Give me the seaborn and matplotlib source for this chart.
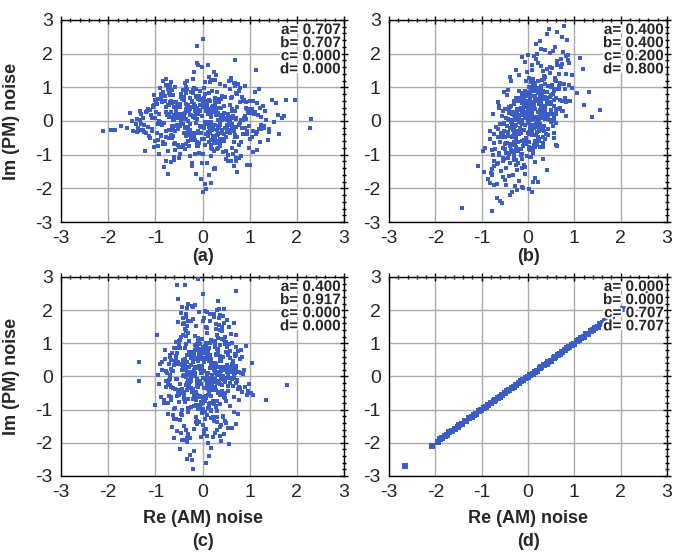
import numpy as np
import pandas as pd
import seaborn as sns
import matplotlib.pyplot as plt
import matplotlib.patheffects as pe
from matplotlib.ticker import MultipleLocator

# ---- panel (a): a=b=0.707, c=d=0 ----
xa = [-0.12, 0.45, -0.83, 0.27, 1.12, -0.36, 0.05, -1.24, 0.68, -0.51,
      0.31, -0.07, 0.92, -0.64, 0.18, -1.47, 0.56, 0.02, -0.29, 1.38,
      -0.71, 0.14, -0.22, 0.83, -1.05, 0.39, -0.48, 0.71, -0.15, 0.24,
      1.63, -0.94, 0.09, -0.37, 0.52, -0.61, 1.01, -0.19, 0.35, -1.72,
      0.11, -0.55, 0.77, -0.03, -0.88, 0.43, 0.26, -1.31, 0.61, -0.42,
      -0.26, 1.24, -0.69, 0.17, 0.95, -0.11, -0.78, 0.48, -1.16, 0.33,
      0.58, -0.33, 0.04, -0.97, 1.47, -0.21, 0.66, -0.58, 0.21, -0.06,
      -1.39, 0.37, 0.86, -0.45, 0.12, -0.81, 0.29, 1.09, -0.31, 0.74,
      0.07, -0.66, -1.93, 0.54, -0.17, 0.99, -0.41, 0.19, -1.08, 1.78,
      -0.49, 0.23, 0.63, -0.24, -0.74, 1.31, 0.01, -0.57, 0.41, -0.90,
      0.88, -0.14, -1.21, 0.32, 0.69, -0.39, 0.15, -0.86, 1.19, -0.02,
      -0.31, 0.49, -0.60, 2.31, -0.09, 0.81, -1.54, 0.27, -0.44, 0.58,
      0.13, -1.01, 0.38, -0.18, 0.97, -0.70, 0.06, 1.41, -0.27, -0.53,
      0.72, -0.38, -0.92, 0.20, 0.46, -0.13, 1.56, -0.65, 0.10, -1.12,
      -0.04, 0.62, -0.47, 0.89, -1.33, 0.34, -0.23, 0.77, -0.76, 0.16,
      1.05, -0.52, 0.28, -0.08, -2.12, 0.51, -0.35, 0.93, -0.62, 0.03,
      -0.84, 0.40, 1.27, -0.28, 0.08, -0.99, 0.57, -0.16, 1.69, -0.46,
      0.25, -0.72, -0.10, 0.64, -1.27, 0.19, 0.82, -0.40, 0.36, -0.01,
      -0.58, 1.14, 0.12, -0.89, 0.47, -0.25, -1.60, 0.71, 0.00, 0.94,
      0.36, -0.17, -0.73, 1.34, -0.34, 0.55, -0.05, -1.02, 0.22, 0.67,
      -1.18, 0.09, 0.79, -0.50, 0.30, 1.95, -0.67, 0.14, -0.20, 0.42,
      0.60, -0.94, -0.32, 0.18, 1.07, -0.12, -0.56, 0.84, -1.42, 0.26,
      -0.15, 0.53, 0.99, -0.77, -0.02, 0.38, -1.07, 0.20, 0.69, -0.43,
      1.52, -0.30, 0.06, -0.61, 0.44, -1.85, 0.15, 0.91, -0.22, 0.32,
      -0.68, 0.27, -0.09, 1.20, -0.47, 0.04, 0.60, -0.95, 2.27, -0.36,
      0.17, -1.24, 0.74, -0.19, -0.60, 1.00, 0.39, -0.08, -0.82, 0.50,
      -0.43, 0.85, -0.26, 0.11, 1.61, -0.71, 0.24, -0.53, 0.05, -1.50,
      0.94, -0.04, -0.99, 0.41, -0.30, 0.63, 1.29, -0.14, -0.64, 0.19,
      -0.21, 0.70, 0.31, -1.36, 0.80, -0.45, 0.00, 1.16, -0.87, 0.37,
      0.48, -0.59, 1.73, -0.11, -0.39, 0.23, -0.80, 0.57, 0.13, -0.27]
ya = [0.21, 0.44, -0.63, -0.12, 0.85, 0.07, -0.71, -0.34, 1.03, 0.18,
      -0.27, -0.96, 0.38, 0.52, -0.02, -0.29, 1.18, 0.41, -0.73, -0.56,
      0.11, 0.83, -1.26, -0.20, 0.46, 0.64, -0.15, -0.88, 0.09, 1.45,
      -0.38, -0.05, 0.52, 1.12, -0.31, -0.69, 0.23, 0.97, -0.58, -0.16,
      1.66, 0.44, -0.12, -0.35, 0.79, 0.06, -1.43, -0.26, 0.69, 0.93,
      -0.08, -0.25, 0.57, 1.22, -0.31, -0.74, 0.43, 1.03, -0.17, -0.81,
      0.47, 1.18, -0.14, -0.36, 0.62, 0.13, -1.34, -0.66, 0.28, 0.90,
      -0.33, -0.75, 0.04, 0.81, -0.46, -1.37, 0.19, 0.22, -0.58, -1.52,
      0.33, 0.59, -0.28, -1.01, 0.14, 0.37, -0.71, -1.84, 0.10, 0.61,
      -0.76, -0.50, 0.08, 0.43, -1.57, -0.16, 2.45, 0.29, -0.53, -0.02,
      0.61, 0.27, -0.89, -0.15, 1.08, 0.72, -0.35, -0.06, 0.94, 0.48,
      -0.19, -1.12, 0.42, 0.05, -0.36, -0.62, 0.25, 1.21, -0.77, -0.03,
      1.31, 0.10, -0.67, -0.55, 0.23, 0.94, -1.88, -0.32, 0.67, 0.41,
      -0.18, -0.83, 0.00, 0.88, -0.39, -1.56, 0.53, 0.12, -1.26, -0.51,
      0.64, 0.31, -0.97, -0.21, 0.04, 0.66, -0.37, -1.09, 0.18, 1.15,
      -0.47, -0.24, 1.38, 0.74, -0.30, -0.13, 1.02, 0.55, -0.45, -0.20,
      0.86, 0.07, -0.15, -0.42, -2.02, 0.58, -0.26, -0.98, 0.09, 0.72,
      -0.90, -0.50, 1.67, 0.11, -0.27, -0.79, 0.03, 0.61, -0.35, -1.25,
      0.14, 1.51, -0.32, -0.43, 0.70, 0.87, -0.20, -0.17, -2.10, 0.35,
      -0.52, -0.99, 0.48, 0.02, -0.68, -1.19, 0.31, 0.77, -0.24, -0.63,
      0.30, 0.40, -0.07, -1.10, 0.86, 0.62, -0.41, -1.61, 0.92, 0.16,
      -0.12, -0.73, 0.95, 0.26, -0.30, 2.24, 0.55, 0.70, -0.10, -1.41,
      0.45, 0.21, -0.80, -0.47, 1.60, 0.02, -0.23, -0.84, 1.80, 0.66,
      -0.02, -0.37, 1.16, 0.17, -0.91, -0.28, 0.59, 0.14, -1.33, -0.38,
      0.76, 0.62, -0.30, -0.24, 0.50, 0.98, -1.19, -0.08, -0.20, 0.84,
      -0.55, -0.13, 0.42, 1.47, -0.15, -1.30, 0.38, 0.71, -0.05, -0.88,
      0.22, 0.60, -1.05, -0.32, 0.19, 0.47, -1.42, -0.19, 0.81, 0.00,
      -0.40, -1.72, 0.27, 0.74, -0.58, -0.09, 0.46, 0.95, -0.24, -1.05,
      1.25, 0.09, -0.66, -0.29, 0.57, 0.12, -0.99, -0.33, 0.75, 1.09,
      -0.20, -0.86, 0.16, 1.71, -0.35, -0.44, 0.60, 0.01, -0.62, -0.27]
# dense core of panel (a)
xa_core = [0.32, -0.18, -0.55, 0.07, 0.41, -0.29, -0.12, 0.63, 0.22, -0.47,
           0.15, -0.61, -0.24, 0.38, 0.03, -0.09, -0.72, 0.27, 0.51, -0.33,
           0.44, -0.05, -0.37, 0.19, 0.68, -0.42, -0.21, 0.11, 0.35, -0.78,
           0.09, -0.26, -0.83, 0.54, 0.17, -0.51, -0.04, 0.46, 0.28, -0.14,
           0.57, -0.36, -0.16, 0.23, 0.05, -0.69, -0.43, 0.31, 0.12, -0.22,
           0.26, -0.11, -0.58, 0.74, 0.39, -0.20, -0.31, 0.06, 0.62, -0.40,
           0.13, -0.48, -0.07, 0.35, 0.81, -0.15, -0.64, 0.20, 0.04, -0.55,
           0.47, -0.23, -0.35, 0.10, 0.29, -0.37, -0.10, 0.58, 0.18, -0.06,
           0.02, -0.67, -0.27, 0.43, 0.52, -0.03, -0.50, 0.14, 0.37, -0.30,
           0.36, -0.13, -0.46, 0.66, 0.08, -0.44, -0.19, 0.25, 0.71, -0.17,
           0.21, -0.39, -0.02, 0.16, 0.45, -0.58, -0.34, 0.05, 0.27, -0.71,
           0.60, -0.08, -0.62, 0.30, 0.14, -0.25, -0.14, 0.49, 0.07, -0.36,
           0.10, -0.53, -0.19, 0.52, 0.33, -0.12, -0.77, 0.37, 0.55, -0.10,
           0.41, -0.30, -0.41, 0.03, 0.24, -0.63, -0.25, 0.16, 0.20, -0.50,
           0.18, -0.02, -0.53, 0.41, 0.64, -0.34, -0.06, 0.69, 0.42, -0.26]
ya_core = [0.24, 0.51, -0.13, -0.38, 0.06, 0.29, -0.62, -0.17, 0.45, 0.09,
           0.36, 0.12, -0.47, -0.08, 0.69, 0.20, -0.28, -0.54, 0.03, 0.41,
           0.15, 0.63, -0.22, -0.71, 0.31, 0.05, -0.40, -0.10, 0.57, 0.26,
           0.48, 0.18, -0.05, -0.33, 0.11, 0.44, -0.19, -0.60, 0.27, 0.74,
           0.02, 0.37, -0.56, -0.15, 0.52, 0.13, -0.08, -0.42, 0.21, 0.58,
           0.67, 0.07, -0.31, -0.49, 0.19, 0.82, -0.24, -0.03, 0.35, 0.16,
           0.28, 0.43, -0.65, -0.21, 0.04, 0.31, -0.50, -0.27, 0.60, 0.10,
           0.09, 0.55, -0.17, -0.04, 0.40, 0.23, -0.73, -0.36, 0.14, 0.47,
           0.53, 0.26, -0.39, -0.58, 0.08, 0.64, -0.12, -0.19, 0.38, 0.01,
           0.19, 0.71, -0.02, -0.30, 0.46, 0.10, -0.35, -0.66, 0.07, 0.33,
           0.40, 0.05, -0.52, -0.11, 0.25, 0.56, -0.45, -0.07, 0.49, 0.22,
           0.12, 0.34, -0.26, -0.83, 0.61, 0.17, -0.06, -0.48, 0.29, 0.05,
           0.58, 0.20, -0.44, -0.16, 0.03, 0.39, -0.30, -0.12, 0.17, 0.65,
           0.07, 0.47, -0.09, -0.53, 0.34, 0.02, -0.57, -0.25, 0.42, 0.13,
           0.31, 0.15, -0.70, -0.27, 0.13, 0.49, -0.16, -0.41, 0.04, 0.36]
# ring of panel (a), around radius ~1
xa_ring = [0.92, -0.71, -1.08, 0.64, 1.25, -0.88, -0.60, 1.13, 0.77, -1.31,
           0.66, -1.19, -0.83, 0.98, 0.58, -1.02, -1.36, 0.81, 1.05, -0.62,
           1.18, -0.59, -0.94, 0.72, 0.86, -1.27, -0.73, 1.40, 0.61, -0.97,
           0.79, -1.05, -0.65, 1.22, 1.02, -0.69, -1.14, 0.62, 0.93, -0.84,
           1.33, -0.80, -1.22, 0.85, 0.68, -0.92, -0.79, 0.95, 1.16, -0.70,
           0.60, -1.38, -0.87, 0.70, 1.10, -0.64, -1.01, 1.24, 0.83, -1.12,
           1.06, -0.66, -1.30, 1.01, 0.74, -1.15, -0.67, 0.78, 0.64, -0.90,
           0.88, -0.95, -0.60, 0.60, 1.29, -0.77, -1.20, 1.07, 1.00, -0.61,
           0.70, -1.10, -1.02, 1.15, 0.90, -1.33, -0.85, 0.69, 0.76, -1.00,
           1.21, -0.74, -0.78, 0.80, 0.62, -0.86, -0.93, 1.30, 1.12, -0.78]
ya_ring = [0.55, 0.83, -0.31, -0.97, 0.12, 0.66, -1.15, -0.40, 0.88, 0.21,
           1.12, 0.28, -0.69, -0.15, 0.94, 0.47, -0.22, -1.05, 0.36, 0.78,
           0.18, 1.01, -0.57, -1.20, 0.61, 0.09, -0.89, -0.25, 1.27, 0.50,
           0.97, 0.42, -0.14, -0.63, 0.33, 1.08, -0.46, -0.81, 0.07, 1.19,
           0.29, 0.74, -0.90, -0.38, 1.14, 0.20, -0.67, -1.30, 0.52, 0.86,
           1.23, 0.05, -0.44, -1.09, 0.24, 0.92, -0.58, -0.11, 0.71, 0.34,
           0.60, 1.17, -0.08, -0.52, 0.81, 0.37, -1.22, -0.70, 0.16, 0.99,
           0.10, 0.64, -1.06, -0.27, 0.45, 1.25, -0.35, -0.92, 0.58, 0.04,
           0.84, 0.19, -0.76, -0.86, 1.03, 0.30, -0.13, -0.48, 1.10, 0.62,
           0.39, 0.95, -1.18, -0.06, 0.70, 0.56, -0.99, -0.20, 0.27, 1.06]

# ---- panel (b): a=b=0.4, c=0.2, d=0.8 ----
xb = [0.31, -0.52, 0.05, 0.32, 0.71, -0.44, 0.12, 0.58, -0.81, -0.20,
      -0.35, 0.64, 0.41, -0.06, -0.18, 0.22, 0.36, -0.61, 0.09, -0.47,
      0.88, -0.28, 0.47, -0.38, -0.11, 0.30, 0.54, -0.02, -0.93, 0.19,
      -0.06, -0.49, 0.72, -0.63, 0.27, 0.60, -0.07, -0.26, 0.13, -0.74,
      0.44, 0.36, -0.39, 0.02, -1.42, 1.06, -0.15, 0.16, 0.49, -0.31,
      0.08, -0.57, 0.84, -0.21, 0.29, -0.43, 0.06, -0.54, 0.65, 0.11,
      -0.09, -0.77, 0.23, 0.52, 0.37, -0.34, -0.12, 1.12, -0.65, 0.40,
      -0.29, 0.17, -0.01, 0.58, 0.03, -0.46, 0.81, -0.68, -0.24, 0.47,
      -0.41, 0.10, 0.67, 0.35, -0.95, 0.20, -0.07, -0.23, 1.31, -0.52,
      0.21, 0.49, -0.27, -0.13, 0.04, 0.78, -0.58, 0.28, 0.63, -0.36,
      0.13, -0.22, -0.49, 0.94, 0.61, -0.83, 0.33, -0.10, -0.60, 0.25,
      0.42, -0.30, -0.55, 0.86, 0.18, 0.00, -0.97, 0.10, -0.34, 0.69,
      -1.09, 0.36, -0.19, 0.20, 0.18, -0.66, -0.04, 0.57, -0.25, 0.45,
      0.07, 0.44, 0.29, -0.47, -0.31, -0.60, 0.55, -0.78, 0.15, -0.14,
      -0.05, -0.36, 0.31, 0.48, -0.21, 0.63, 0.02, -0.37, -0.45, 0.74,
      -0.50, 0.12, -0.80, 0.38, 0.95, -0.17, 0.26, 0.07, -0.12, 0.53,
      0.00, 0.78, -0.30, 0.11, -0.41, 0.37, 0.26, 0.60, 1.18, -0.07,
      -0.62, 0.19, -0.26, -0.35, 0.47, 0.39, -0.14, 0.16, -0.55, 1.21,
      -0.33, 0.09, -0.09, 0.74, -0.41, 0.05, 0.58, 0.23, -0.03, -0.71,
      -0.24, 0.53, -0.52, 0.34, 0.10, -0.57, 0.41, -0.38, 0.12, -0.20,
      0.27, -0.16, 0.02, 0.60, -0.74, -0.28, 0.89, 0.05, 0.34, 0.46,
      -0.39, 0.20, -0.12, 0.55, -0.06, 0.69, -0.25, 0.01, -0.44, 0.14,
      0.35, 0.21, -0.24, -0.41, 0.90, 0.25, 0.17, -0.59, 0.11, -0.47,
      0.03, -0.08, 0.40, -0.27, -0.68, 0.32, 0.08, 0.43, 0.60, -0.86,
      0.21, -0.26, 0.49, 0.17, -0.15, -0.14, 0.30, 0.06, -0.48, 0.82,
      -0.38, -0.02, 0.53, 0.14, 0.26, -0.30, 0.44, -0.47, -0.09, 0.57,
      0.04, -0.11, 0.23, -0.19, 0.47, -0.25, 1.55, -0.04, 0.41, 0.15,
      -0.20, 0.31, -0.32, 0.10, 0.47, -0.07, 0.02, 0.28, -0.70, 0.09,
      0.66, -0.08, 1.37, -0.30, 0.19, 0.00, -0.43, 0.36, -0.19, -0.02,
      0.17, 0.05, 0.58, -0.49, -0.23, -0.13, 0.33, 0.27, -0.33, 0.09]
yb = [0.42, -1.13, 0.87, -0.26, 1.64, 0.05, -0.71, 1.21, -1.85, 0.33,
      -0.48, 0.96, 0.14, -1.37, 0.61, -0.09, 2.12, -0.62, 0.28, -0.95,
      1.07, -0.33, 0.52, -2.21, 0.19, 0.78, -0.15, 1.46, -0.81, 0.01,
      -0.57, 0.35, 1.83, -1.02, -0.20, 0.69, -1.58, 0.24, 0.90, -0.40,
      0.11, 1.31, -0.74, 0.47, -2.58, 0.83, -0.06, -1.21, 1.02, 0.58,
      -0.29, 0.16, 2.41, -0.88, 0.64, -0.45, 1.15, -1.67, 0.37, -0.12,
      0.72, -1.44, 0.06, 1.58, -0.53, 0.27, -0.98, 1.88, -0.23, 0.49,
      -1.92, 0.93, -0.36, 0.21, 1.27, -0.66, 0.55, -1.29, 0.04, 2.03,
      0.31, -0.79, 1.39, -0.14, -1.51, 0.66, 0.10, -2.04, 0.87, -0.31,
      1.71, -0.02, -0.61, 0.40, -1.08, 1.11, -0.37, 0.76, 2.65, -0.86,
      -0.18, 0.59, -1.74, 0.98, 0.22, -0.52, 1.49, -0.27, -2.38, 0.13,
      0.85, -1.16, 0.30, 1.95, -0.42, 0.07, -0.90, 1.24, -0.06, 0.62,
      -1.33, 0.45, 0.18, -0.70, 2.29, -1.88, 0.79, 0.02, -0.47, 1.03,
      0.26, -0.25, 1.62, -1.40, 0.51, -0.08, 0.95, -2.67, 0.36, -0.59,
      1.18, -0.92, 0.09, 0.70, -1.25, 1.79, -0.34, 0.44, -0.16, 2.50,
      -0.67, 0.38, -1.55, 0.15, 1.36, -0.21, 0.57, -1.06, 0.82, 0.00,
      0.50, 2.82, -0.44, -1.81, 0.24, 1.09, -0.77, 0.34, 1.53, -0.13,
      -0.96, 0.12, 0.67, -2.12, 1.42, -0.39, 0.20, 0.91, -1.19, 0.47,
      0.03, 1.67, -0.55, 0.29, -1.63, 0.74, 2.20, -0.30, 0.58, -0.84,
      -1.47, 0.81, -0.10, 1.26, 0.37, -2.45, 0.63, -0.69, 1.92, 0.19,
      0.55, -0.35, 1.01, -0.05, -1.35, 0.28, 1.73, -0.87, 0.14, 2.74,
      -0.22, 0.89, -1.95, 0.46, 0.08, 1.14, -0.60, 0.31, -1.10, 0.68,
      1.33, -0.49, 0.23, -0.97, 0.60, 2.37, -0.18, -1.49, 0.96, 0.10,
      -0.76, 0.41, 1.55, -0.30, -2.30, 0.86, 0.17, -0.41, 1.19, -1.72,
      0.65, -0.11, 0.32, 1.85, -1.01, 0.52, -0.28, 0.07, -0.64, 1.40,
      -1.24, 0.73, 2.08, -0.58, 0.25, -0.17, 1.05, -1.90, 0.43, 0.88,
      0.16, -0.73, 0.99, -0.04, 1.61, -1.30, 0.34, -0.50, 2.58, 0.60,
      -0.39, 1.22, -1.60, 0.48, 0.04, 0.80, -2.02, 0.27, -0.19, 1.50,
      0.94, -0.66, 0.13, -1.14, 1.98, 0.39, -0.32, 0.71, -1.78, 0.22,
      -0.08, 0.57, 1.28, -0.83, 0.35, -1.39, 0.66, 2.15, -0.45, 0.02]
xb_core = [0.28, -0.07, -0.34, 0.03, 0.37, -0.08, -0.41, 0.34, 0.26, -0.30,
           0.22, -0.34, -0.27, 0.26, 0.52, 0.02, -0.44, 0.03, 0.43, -0.09,
           0.36, 0.10, -0.31, -0.14, 0.50, -0.28, -0.22, 0.19, 0.33, -0.41,
           0.28, -0.11, -0.51, 0.23, 0.09, -0.13, -0.18, 0.11, 0.31, 0.21,
           0.37, -0.13, -0.24, 0.12, 0.27, -0.38, -0.33, -0.05, 0.26, 0.06,
           0.28, -0.01, -0.50, 0.33, 0.29, 0.09, -0.29, 0.01, 0.49, -0.28,
           0.30, -0.18, -0.30, 0.19, 0.57, 0.01, -0.53, 0.08, 0.24, -0.20,
           0.33, 0.03, -0.33, 0.03, 0.27, -0.16, -0.25, 0.24, 0.30, 0.07,
           0.22, -0.38, -0.30, 0.10, 0.37, 0.14, -0.30, 0.04, 0.56, -0.14,
           0.30, 0.14, -0.36, 0.33, 0.16, -0.27, -0.27, -0.02, 0.14, -0.30,
           0.28, -0.20, -0.19, 0.05, 0.36, -0.19, -0.34, 0.05, 0.49, 0.02,
           0.44, 0.09, -0.55, -0.08, 0.27, -0.07, -0.13, 0.16, 0.12, -0.25,
           0.21, -0.23, -0.29, 0.32, 0.21, 0.05, -0.59, 0.19, 0.22, 0.10,
           0.28, -0.04, -0.28, -0.16, 0.28, -0.40, -0.31, 0.03, 0.42, -0.32,
           0.23, 0.00, -0.53, 0.12, 0.49, -0.04, -0.09, 0.33, 0.10, -0.06]
yb_core = [0.40, 0.88, -0.19, -0.61, 0.12, 0.52, -0.95, -0.30, 0.71, 0.17,
           0.60, 0.22, -0.76, -0.10, 1.08, 0.35, -0.44, -0.84, 0.05, 0.66,
           0.27, 1.01, -0.36, -1.12, 0.50, 0.10, -0.63, -0.15, 0.90, 0.43,
           0.78, 0.30, -0.07, -0.52, 0.20, 0.70, -0.28, -0.96, 0.45, 1.18,
           0.06, 0.59, -0.88, -0.22, 0.83, 0.24, -0.13, -0.67, 0.34, 0.93,
           1.05, 0.13, -0.49, -0.78, 0.31, 1.26, -0.39, -0.06, 0.56, 0.28,
           0.45, 0.69, -1.02, -0.33, 0.08, 0.50, -0.80, -0.43, 0.96, 0.16,
           0.15, 0.87, -0.27, -0.05, 0.64, 0.38, -1.15, -0.58, 0.23, 0.75,
           0.84, 0.41, -0.62, -0.92, 0.13, 1.02, -0.20, -0.31, 0.61, 0.03,
           0.32, 1.13, -0.04, -0.47, 0.74, 0.17, -0.55, -1.05, 0.11, 0.53,
           0.64, 0.09, -0.82, -0.18, 0.40, 0.90, -0.71, -0.12, 0.78, 0.36,
           0.20, 0.55, -0.42, -1.30, 0.97, 0.28, -0.10, -0.77, 0.47, 0.08,
           0.93, 0.32, -0.69, -0.25, 0.04, 0.62, -0.47, -0.19, 0.28, 1.03,
           0.12, 0.75, -0.15, -0.84, 0.55, 0.02, -0.90, -0.40, 0.67, 0.21,
           0.50, 0.25, -1.10, -0.43, 0.21, 0.78, -0.26, -0.65, 0.07, 0.58]
xb_ring = [0.66, -0.25, -0.73, 0.16, 0.76, -0.36, -0.73, 0.63, 0.72, -0.63,
           0.86, -0.64, -0.65, 0.55, 0.63, -0.51, -0.64, 0.22, 0.80, -0.20,
           0.70, -0.07, -0.76, -0.10, 0.74, -0.76, -0.77, 0.56, 0.76, -0.44,
           0.74, -0.45, -0.81, 0.32, 0.74, -0.12, -0.77, 0.41, 0.81, -0.01,
           0.82, -0.38, -0.77, 0.60, 0.83, -0.62, -0.74, 0.08, 0.79, -0.25]
yb_ring = [1.05, 1.52, -0.64, -1.70, 0.30, 1.20, -1.90, -0.75, 1.60, 0.45,
           1.80, 0.55, -1.25, -0.35, 1.66, 0.86, -0.47, -1.80, 0.68, 1.38,
           0.38, 1.75, -1.02, -2.00, 1.10, 0.22, -1.58, -0.50, 2.05, 0.92,
           1.68, 0.77, -0.30, -1.14, 0.60, 1.90, -0.86, -1.45, 0.15, 1.97,
           0.58, 1.30, -1.60, -0.70, 1.92, 0.40, -1.20, -2.10, 0.95, 1.50]

# ---- panel (c): a=0.4, b=0.917, c=d=0 ----
xc = [0.12, -0.35, 0.48, -0.07, 0.27, -0.61, 0.03, 0.39, -0.22, 0.71,
      -0.44, 0.18, -0.03, 0.56, -0.78, 0.09, 0.33, -0.15, 0.64, -0.29,
      0.06, -0.52, 0.23, -0.11, 0.85, -0.37, 0.14, -0.66, 0.41, -0.02,
      0.30, -0.19, 0.59, -0.90, 0.01, 0.47, -0.27, 0.16, -0.48, 0.75,
      -0.08, 0.36, -0.60, 0.21, -0.14, 0.93, -0.33, 0.05, 0.52, -0.71,
      0.24, -0.04, -0.41, 0.67, 0.11, -0.23, 0.42, -0.85, 0.00, 0.31,
      -0.56, 0.15, 0.79, -0.31, 0.37, -0.55, -1.35, 0.20, 0.61, -0.17,
      0.44, -0.68, 0.07, -0.25, 1.02, -0.43, 0.26, -0.01, -0.74, 0.53,
      -0.20, 0.33, -0.50, 0.10, 0.68, -0.36, 1.80, -0.12, 0.29, -0.94,
      0.58, -0.06, -0.28, 0.46, -0.63, 0.19, -0.10, 0.82, -0.45, 0.04,
      -0.34, 0.72, 0.13, -0.81, 0.25, -0.16, 0.50, -0.55, 0.08, 1.35,
      0.17, -0.47, 0.38, -0.02, -1.01, 0.63, -0.21, 0.28, -0.39, 0.11,
      -0.13, 0.49, -0.70, 0.22, 0.04, -0.30, 0.91, -0.06, 0.35, -0.58,
      0.40, -0.24, 0.15, -0.46, 0.77, -1.35, 0.02, 0.55, -0.12, 0.26,
      -0.65, 0.09, 0.32, -0.18, -0.42, 0.70, -0.05, 0.43, -0.86, 0.18,
      0.27, -0.53, 0.00, 0.62, -0.26, 0.13, -0.77, 0.36, 1.08, -0.09,
      -0.38, 0.20, 0.54, -0.11, 0.31, -0.67, 0.07, -0.30, 0.46, -0.49,
      0.08, 0.74, -0.20, -0.57, 0.19, 0.96, -0.03, -0.41, 0.24, 0.60,
      -0.15, 0.30, -0.88, 0.12, -0.33, 0.45, 0.03, -0.62, 0.81, -0.07,
      0.50, -0.27, 0.16, -0.50, 0.39, -0.14, 0.69, -0.97, 0.06, 0.22,
      -0.42, 0.04, 0.57, -0.23, 1.04, -0.06, -0.73, 0.34, -0.16, 0.47,
      0.14, -0.59, 0.25, 0.88, -0.35, 0.01, 0.52, -0.44, 0.21, -0.82,
      -0.02, 0.41, -0.30, 0.66, -0.09, -0.51, 0.17, 0.37, -0.64, 0.10,
      0.73, -0.18, -0.47, 0.07, 0.28, -0.25, 0.48, -0.05, -0.39, 0.95,
      -0.10, 0.55, 0.02, -0.72, 0.35, 0.15, -0.32, 0.64, -0.54, 0.70,
      0.23, -0.13, 0.44, -0.37, -0.60, 0.11, 0.78, -0.21, 0.05, 0.32,
      -0.49, 0.26, -0.04, 0.59, -0.28, 0.40, -0.92, 0.18, -0.11, 0.67,
      0.03, -0.40, 0.71, -0.15, 0.22, -0.66, 0.09, 0.51, -0.26, -0.03,
      0.36, -0.08, -0.55, 0.30, 0.84, -0.19, 0.13, -0.45, 0.60, -0.33,
      -0.24, 0.47, 0.10, -0.70, 0.19, 0.00, -0.36, 0.27, 0.99, -0.14]
yc = [0.54, 1.21, -0.18, -1.37, 0.42, 0.86, -1.73, -0.09, 2.12, 0.65,
      -1.02, -0.27, 0.61, 1.48, -0.33, -1.79, 0.84, 0.12, -0.06, -0.94,
      1.96, 0.45, -1.23, -0.55, 0.08, 0.31, -2.41, -0.70, 1.12, 0.26,
      -0.19, -1.58, 0.78, 0.39, -0.97, -1.33, 0.04, 0.66, -2.20, -1.14,
      0.31, 0.61, -1.86, -0.09, 0.52, 0.92, -2.48, -1.29, 0.15, 0.38,
      -0.83, -0.77, 0.02, 1.62, -2.02, -0.46, 0.22, 0.21, -1.45, -1.05,
      0.62, 1.89, -0.35, -0.95, 0.13, 2.76, 0.45, -0.28, 1.27, 0.81,
      -1.21, -0.07, 0.71, 1.66, -0.50, -0.37, 0.98, 0.74, -0.19, -1.54,
      0.44, 2.28, -0.57, -1.16, 0.24, 0.99, -0.25, -1.42, 0.67, 0.03,
      -0.88, -0.15, 1.07, 2.03, -0.36, -0.58, 2.95, 0.80, -0.50, -1.63,
      1.38, 0.23, -0.46, -0.71, 1.88, 0.96, -0.04, -0.60, -2.62, -0.70,
      -0.41, -1.31, 0.29, 0.13, -0.86, -0.09, 1.72, 1.44, -0.55, -0.17,
      1.51, 0.74, -0.27, -1.81, 0.84, 2.20, -0.33, -0.98, 0.11, 0.46,
      -0.52, -0.06, 1.02, 1.19, -0.31, -0.15, 2.50, 0.66, -1.35, -1.70,
      0.70, 1.94, -0.20, -0.88, 0.38, 1.25, -0.59, -0.01, 0.43, 1.10,
      -0.07, -0.51, 1.67, 0.39, -2.38, -0.83, 0.16, 0.94, -0.57, -0.32,
      2.75, 1.06, -0.44, -0.18, 1.26, 0.22, -1.59, -0.68, 0.28, 0.92,
      -0.60, -0.14, 2.10, 0.50, -1.04, -0.45, 0.76, 1.58, -1.35, -0.05,
      0.29, 0.82, -0.63, -0.04, 2.06, 1.11, -0.35, -1.15, 0.10, 1.93,
      -1.40, -0.16, 0.53, 0.89, -1.47, -0.48, 0.10, 1.24, -0.74, -0.34,
      0.23, 1.75, -0.06, -2.52, 0.42, 0.69, -1.12, -0.14, 0.57, 1.01,
      -0.93, -0.37, 1.78, 0.20, -1.61, -0.67, 0.89, 0.34, -0.05, -0.79,
      1.14, 0.58, -0.30, -0.62, 1.03, 2.34, -0.26, -1.52, 0.17, 0.71,
      -0.10, -2.25, 0.85, 1.48, -0.41, -0.03, 0.97, 0.61, -1.92, -0.56,
      1.16, 0.25, -0.63, -0.12, 1.54, 1.68, -0.40, -0.30, 0.87, 2.58,
      -0.76, -1.38, 0.01, 0.52, -1.29, -0.96, 0.13, -2.79, -0.65, -0.48,
      0.37, 0.90, -1.81, -0.21, 0.73, 1.40, -0.22, -1.05, 0.54, 0.00,
      -1.61, -0.69, 0.16, 2.15, -0.75, -0.31, 1.30, 0.36, -1.85, -0.82,
      0.48, 1.09, -0.07, -1.23, 0.58, 0.19, -0.93, -1.69, 0.30, 0.43,
      -0.91, -0.49, 1.45, 0.04, -2.16, -0.64, 0.19, 1.07, -0.22, -1.23]
xc_core = [0.18, -0.07, -0.33, 0.12, 0.26, -0.20, -0.05, 0.41, 0.09, -0.29,
           0.03, -0.38, -0.14, 0.24, 0.47, -0.02, -0.45, 0.15, 0.31, -0.19,
           0.27, -0.11, -0.24, 0.06, 0.39, -0.31, -0.08, 0.20, 0.13, -0.52,
           0.11, -0.17, -0.56, 0.33, 0.04, -0.27, -0.12, 0.29, 0.22, -0.03,
           0.36, -0.25, -0.06, 0.16, 0.10, -0.43, -0.30, 0.08, 0.19, -0.13,
           0.07, -0.04, -0.40, 0.49, 0.23, -0.16, -0.21, 0.02, 0.38, -0.34,
           0.21, -0.32, -0.10, 0.26, 0.55, -0.09, -0.37, 0.17, 0.05, -0.23,
           0.30, -0.14, -0.28, 0.04, 0.14, -0.24, -0.02, 0.36, 0.25, -0.08,
           0.05, -0.46, -0.18, 0.28, 0.34, -0.06, -0.26, 0.10, 0.44, -0.15,
           0.24, -0.09, -0.35, 0.42, 0.01, -0.30, -0.16, 0.19, 0.12, -0.41,
           0.15, -0.22, -0.03, 0.09, 0.28, -0.37, -0.20, 0.07, 0.33, -0.05,
           0.40, -0.02, -0.47, 0.18, 0.08, -0.13, -0.11, 0.31, 0.03, -0.27,
           0.02, -0.29, -0.15, 0.37, 0.20, -0.07, -0.50, 0.23, 0.16, -0.11,
           0.26, -0.19, -0.25, 0.01, 0.17, -0.40, -0.13, 0.11, 0.29, -0.36,
           0.13, -0.05, -0.31, 0.21, 0.45, -0.20, -0.04, 0.46, 0.09, -0.18]
yc_core = [0.35, 0.82, -0.21, -0.57, 0.10, 0.46, -0.93, -0.27, 0.66, 0.14,
           0.55, 0.19, -0.72, -0.12, 1.02, 0.31, -0.43, -0.80, 0.06, 0.62,
           0.23, 0.96, -0.34, -1.07, 0.47, 0.08, -0.61, -0.16, 0.86, 0.40,
           0.74, 0.27, -0.08, -0.50, 0.17, 0.67, -0.29, -0.91, 0.41, 1.12,
           0.04, 0.56, -0.85, -0.23, 0.79, 0.20, -0.12, -0.64, 0.32, 0.88,
           1.00, 0.11, -0.47, -0.74, 0.29, 1.21, -0.37, -0.05, 0.53, 0.25,
           0.42, 0.65, -0.98, -0.32, 0.06, 0.47, -0.76, -0.41, 0.91, 0.15,
           0.14, 0.83, -0.26, -0.06, 0.61, 0.35, -1.10, -0.55, 0.21, 0.71,
           0.80, 0.39, -0.59, -0.88, 0.12, 0.97, -0.18, -0.29, 0.58, 0.02,
           0.29, 1.07, -0.03, -0.45, 0.70, 0.15, -0.53, -1.00, 0.10, 0.50,
           0.61, 0.08, -0.79, -0.17, 0.38, 0.85, -0.68, -0.11, 0.74, 0.33,
           0.18, 0.52, -0.40, -1.25, 0.92, 0.26, -0.09, -0.73, 0.44, 0.07,
           0.88, 0.30, -0.66, -0.24, 0.05, 0.59, -0.45, -0.18, 0.26, 0.98,
           0.11, 0.71, -0.14, -0.80, 0.52, 0.03, -0.86, -0.38, 0.64, 0.20,
           0.47, 0.23, -1.06, -0.41, 0.20, 0.74, -0.24, -0.62, 0.06, 0.55]
xc_ring = [0.52, -0.38, -0.71, 0.30, 0.63, -0.47, -0.33, 0.77, 0.41, -0.58,
           0.35, -0.66, -0.44, 0.55, 0.29, -0.80, -0.52, 0.46, 0.69, -0.31,
           0.72, -0.30, -0.59, 0.40, 0.50, -0.62, -0.40, 0.83, 0.34, -0.50,
           0.45, -0.55, -0.36, 0.67, 0.58, -0.34, -0.74, 0.31, 0.60, -0.45,
           0.80, -0.42, -0.65, 0.48, 0.37, -0.53, -0.46, 0.57, 0.70, -0.37,
           0.30, -0.76, -0.49, 0.38, 0.65, -0.33, -0.60, 0.72, 0.47, -0.68,
           0.62, -0.35, -0.78, 0.59, 0.42, -0.70, -0.32, 0.44, 0.33, -0.51,
           0.50, -0.50, -0.30, 0.34, 0.75, -0.43, -0.67, 0.62, 0.56, -0.32,
           0.38, -0.60, -0.56, 0.70, 0.52, -0.79, -0.48, 0.36, 0.43, -0.57,
           0.68, -0.40, -0.43, 0.46, 0.32, -0.49, -0.55, 0.76, 0.64, -0.42]
yc_ring = [0.94, 1.42, -0.58, -1.61, 0.25, 1.10, -1.85, -0.70, 1.50, 0.40,
           1.76, 0.50, -1.17, -0.30, 1.58, 0.80, -0.42, -1.72, 0.63, 1.30,
           0.33, 1.68, -0.96, -1.95, 1.04, 0.18, -1.50, -0.46, 2.02, 0.86,
           1.60, 0.71, -0.27, -1.08, 0.56, 1.80, -0.80, -1.38, 0.13, 1.91,
           0.52, 1.25, -1.52, -0.66, 1.86, 0.37, -1.14, -2.05, 0.90, 1.44,
           1.99, 0.10, -0.77, -1.80, 0.43, 1.53, -0.99, -0.20, 1.20, 0.60,
           1.02, 1.88, -0.15, -0.90, 1.36, 0.65, -1.98, -1.20, 0.28, 1.64,
           0.20, 1.08, -1.74, -0.48, 0.78, 2.10, -0.62, -1.55, 0.98, 0.08,
           1.40, 0.35, -1.28, -1.44, 1.70, 0.52, -0.24, -0.83, 1.81, 1.05,
           0.68, 1.60, -1.90, -0.11, 1.17, 0.95, -1.63, -0.37, 0.47, 1.75]

# ---- panel (d): a=b=0, c=d=0.707 (points on the diagonal) ----
xd = [-2.65, -2.08, -1.94, -1.90, -1.85, -1.79, -1.74, -1.70, -1.63, -1.58,
      -1.52, -1.49, -1.43, -1.36, -1.33, -1.27, -1.21, -1.17, -1.12, -1.05,
      -1.01, -0.96, -0.90, -0.86, -0.80, -0.74, -0.71, -0.65, -0.60, -0.56,
      -0.50, -0.45, -0.41, -0.35, -0.30, -0.26, -0.20, -0.15, -0.11, -0.05,
      0.00, 0.04, 0.10, 0.14, 0.19, 0.25, 0.29, 0.34, 0.40, 0.44,
      0.49, 0.55, 0.59, 0.64, 0.70, 0.74, 0.80, 0.85, 0.89, 0.95,
      1.00, 1.06, 1.10, 1.15, 1.21, 1.26, 1.30, 1.36, 1.41, 1.45,
      1.51, 1.56, 1.61, 1.66, 1.71, 1.76, 1.82, 1.90, 2.05, 2.60]
yd = [-2.70, -2.10, -1.97, -1.89, -1.86, -1.78, -1.75, -1.68, -1.64, -1.57,
      -1.53, -1.47, -1.44, -1.35, -1.34, -1.26, -1.22, -1.15, -1.13, -1.04,
      -1.02, -0.95, -0.91, -0.85, -0.81, -0.73, -0.72, -0.64, -0.61, -0.55,
      -0.51, -0.44, -0.42, -0.34, -0.31, -0.25, -0.21, -0.14, -0.12, -0.04,
      -0.01, 0.05, 0.09, 0.15, 0.18, 0.26, 0.28, 0.35, 0.39, 0.45,
      0.48, 0.56, 0.58, 0.65, 0.69, 0.75, 0.79, 0.86, 0.88, 0.96,
      0.99, 1.07, 1.09, 1.16, 1.20, 1.27, 1.29, 1.37, 1.40, 1.46,
      1.50, 1.57, 1.60, 1.67, 1.70, 1.77, 1.81, 1.88, 2.05, 2.55]

labels = ["(a)", "(b)", "(c)", "(d)"]
coefs = [[0.707, 0.707, 0.000, 0.000],
         [0.400, 0.400, 0.200, 0.800],
         [0.400, 0.917, 0.000, 0.000],
         [0.000, 0.000, 0.707, 0.707]]
ticks = [-3, -2, -1, 0, 1, 2, 3]

sns.set_style("white")
plt.rcParams['font.family'] = ['Liberation Sans', 'DejaVu Sans']
plt.rcParams['axes.unicode_minus'] = False

panels = [(xa + xa_core + xa_ring, ya + ya_core + ya_ring),
          (xb + xb_core + xb_ring, yb + yb_core + yb_ring),
          (xc + xc_core + xc_ring, yc + yc_core + yc_ring),
          (xd, yd)]
dot_sizes = [9, 9, 9, 16]
dot_color = "#3c5cc6"

fig = plt.figure(figsize=(6.75, 5.52), dpi=100)
# axes boxes in figure fraction (left, bottom, width, height)
boxes = [(0.0904, 0.5978, 0.4193, 0.366),
         (0.5763, 0.5978, 0.4119, 0.366),
         (0.0904, 0.1377, 0.4193, 0.3605),
         (0.5763, 0.1377, 0.4119, 0.3605)]

for i, (xs, ys) in enumerate(panels):
    ax = fig.add_axes(boxes[i])
    df = pd.DataFrame({"re": xs, "im": ys})
    sns.scatterplot(data=df, x="re", y="im", ax=ax, color=dot_color,
                    s=dot_sizes[i], marker="s", linewidth=0, zorder=3)
    ax.set_xlim(-3, 3)
    ax.set_ylim(-3, 3)
    ax.set_xticks(ticks)
    ax.set_yticks(ticks)
    ax.xaxis.set_minor_locator(MultipleLocator(0.2))
    ax.yaxis.set_minor_locator(MultipleLocator(0.2))
    ax.grid(True, which="major", color="#ababab", linewidth=1.0, zorder=0)
    ax.set_axisbelow(True)
    ax.tick_params(which="both", direction="inout", top=True, right=True,
                   width=1, color="black")
    ax.tick_params(which="major", length=6, labelsize=14, pad=3)
    ax.tick_params(which="minor", length=3.5)
    for sp in ax.spines.values():
        sp.set_color("black")
        sp.set_linewidth(1.0)

    txt = "\n".join(f"{k}= {v:.3f}" for k, v in zip("abcd", coefs[i]))
    ax.text(0.988, 0.985, txt, transform=ax.transAxes, ha="right", va="top",
            fontsize=11, fontweight="bold", linespacing=0.92, zorder=5,
            path_effects=[pe.withStroke(linewidth=2.5, foreground="white")])

    if i >= 2:
        ax.set_xlabel("Re (AM) noise\n" + labels[i], fontsize=13,
                      fontweight="bold", linespacing=1.45)
        ax.xaxis.set_label_coords(0.5, -0.17)
    else:
        ax.set_xlabel(labels[i], fontsize=13, fontweight="bold")
        ax.xaxis.set_label_coords(0.5, -0.13)
    if i % 2 == 0:
        ax.set_ylabel("Im (PM) noise", fontsize=13, fontweight="bold")
        ax.yaxis.set_label_coords(-0.145, 0.5)
    else:
        ax.set_ylabel("")

plt.savefig("out.png", dpi=100)
